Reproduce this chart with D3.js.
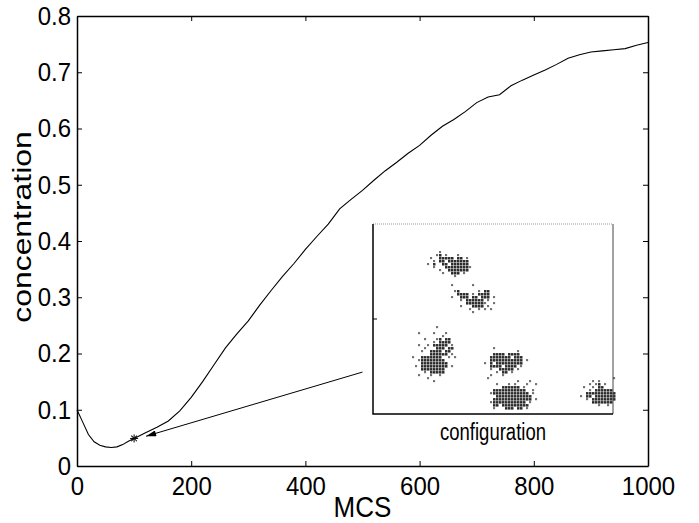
<!DOCTYPE html>
<html>
<head>
<meta charset="utf-8">
<script src="https://cdn.jsdelivr.net/npm/d3@7"></script>
<style>
  body { margin: 0; background: #fff; }
  text { font-family: "Liberation Sans", Arial, sans-serif; fill: #000; }
</style>
</head>
<body>
<div id="chart"></div>
<script>
// concentration vs Monte Carlo steps
var mcs = [0, 10, 20, 30, 40, 50, 60, 70, 80, 90, 100, 120, 140, 160, 180, 200,
  220, 240, 260, 280, 300, 320, 340, 360, 380, 400, 420, 440, 460, 480, 500,
  520, 540, 560, 580, 600, 620, 640, 660, 680, 700, 720, 740, 760, 780, 800,
  820, 840, 860, 880, 900, 920, 940, 960, 980, 1000];
var conc = [0.100, 0.078, 0.056, 0.043, 0.037, 0.034, 0.033, 0.034, 0.038, 0.044, 0.049,
  0.059, 0.069, 0.080, 0.098, 0.122, 0.150, 0.180, 0.210, 0.235, 0.258, 0.286,
  0.312, 0.337, 0.360, 0.385, 0.408, 0.430, 0.457, 0.474, 0.490, 0.508, 0.525,
  0.540, 0.556, 0.570, 0.588, 0.604, 0.616, 0.630, 0.646, 0.656, 0.660, 0.676,
  0.686, 0.695, 0.704, 0.714, 0.725, 0.731, 0.736, 0.738, 0.740, 0.742, 0.748, 0.753];

var xTicks = [0, 200, 400, 600, 800, 1000];
var yTicks = [0, 0.1, 0.2, 0.3, 0.4, 0.5, 0.6, 0.7, 0.8];

// marked configuration point and where the arrow comes from
var marked = [100, 0.049];
var arrowFrom = [500, 0.167];
var arrowTo = [121, 0.053];

// lattice snapshot: clusters as bitmaps on an 80 x 63 grid
var clusters = [
  { col: 18, row: 9, rows: [
    "....#..........",
    "...##.#...#....",
    ".#..#####.##.#.",
    "..#.##.#######.",
    "#.#..##.######.",
    "..#...#########",
    "....#..#######.",
    ".....#..###.#..",
    ".........#....."] },
  { col: 26, row: 20, rows: [
    "#......#.......",
    "...............",
    ".##......#.##..",
    "..####.#.####..",
    "#..###.##.###.#",
    "...#.######.#..",
    ".....#######..#",
    "...#...####.#..",
    "......#..#.#.#.",
    ".......#......."] },
  { col: 13, row: 34, rows: [
    "........#.......",
    "................",
    "..#....#...#....",
    "..........#.....",
    "....#...##.##...",
    ".......#.####...",
    "..#..#.#####.#..",
    "....#...###.##..",
    "...#..####.##...",
    "......######.#..",
    "#..#######..#.#.",
    "..#########.....",
    "...#########....",
    ".#.#########.#..",
    "...########.....",
    "....#.#####.....",
    "..#...#..#......",
    ".....#..........",
    ".......#........"] },
  { col: 37, row: 41, rows: [
    "...#...........",
    "...........#...",
    "...####.####...",
    "..#######.###..",
    "..###########.#",
    "#.#.#########..",
    "..####.####.#..",
    "..#..#####.#...",
    "....#.##.#.....",
    "..#...#........",
    ".#............."] },
  { col: 38, row: 52, rows: [
    "..........#...#...",
    "...#...#.#...#..#.",
    ".....######.#.....",
    "..###########..#..",
    ".#############.#..",
    "...############...",
    "..#############.#.",
    ".############.#...",
    "..##.#########....",
    "..#...###.##.#...."] },
  { col: 69, row: 51, rows: [
    "...........#",
    "....#.#.....",
    "...#.##.#...",
    ".#..#.##....",
    "...#.######.",
    "..##########",
    "#.##.#######",
    "..#.########",
    "....#######.",
    "......#..#.."] }
];

var width = 699, height = 523;
var margin = { left: 77, top: 16, right: 51, bottom: 57 };

var svg = d3.select("#chart").append("svg")
  .attr("width", width)
  .attr("height", height);

var x = d3.scaleLinear().domain([0, 1000]).range([margin.left, width - margin.right]);
var y = d3.scaleLinear().domain([0, 0.8]).range([height - margin.bottom, margin.top]);

// axes, ticks pointing inwards on all four sides
svg.append("g")
  .attr("transform", `translate(0,${y(0)})`)
  .call(d3.axisBottom(x).tickValues(xTicks).tickSizeInner(-5).tickSizeOuter(0).tickPadding(9).tickFormat(d3.format("d")));
svg.append("g")
  .attr("transform", `translate(0,${y(0.8)})`)
  .call(d3.axisTop(x).tickValues(xTicks).tickSizeInner(-5).tickSizeOuter(0).tickFormat(""));
svg.append("g")
  .attr("transform", `translate(${x(0)},0)`)
  .call(d3.axisLeft(y).tickValues(yTicks).tickSizeInner(-5).tickSizeOuter(0).tickPadding(6).tickFormat(d => d === 0 ? "0" : d3.format(".1f")(d)));
svg.append("g")
  .attr("transform", `translate(${x(1000)},0)`)
  .call(d3.axisRight(y).tickValues(yTicks).tickSizeInner(-5).tickSizeOuter(0).tickFormat(""));

svg.selectAll(".domain").attr("stroke", "#000").attr("stroke-width", 1.5);
svg.selectAll(".tick line").attr("stroke", "#000");
// the original lettering is a little taller than it is wide
svg.selectAll(".tick text")
  .attr("font-size", 24)
  .attr("font-family", null)
  .attr("fill", "#000")
  .attr("transform", "scale(1,1.1)");

// main curve
var line = d3.line()
  .x((d, i) => x(mcs[i]))
  .y(d => y(d));

svg.append("path")
  .datum(conc)
  .attr("fill", "none")
  .attr("stroke", "#000")
  .attr("stroke-width", 1.1)
  .attr("d", line);

// asterisk marker at the chosen configuration
var star = svg.append("g")
  .attr("transform", `translate(${x(marked[0])},${y(marked[1])})`)
  .attr("stroke", "#000")
  .attr("stroke-width", 1);
[0, 45, 90, 135].forEach(function(a) {
  star.append("line")
    .attr("x1", -4).attr("x2", 4)
    .attr("transform", `rotate(${a})`);
});

// arrow
svg.append("defs").append("marker")
  .attr("id", "head")
  .attr("viewBox", "0 0 10 6")
  .attr("refX", 10).attr("refY", 3)
  .attr("markerWidth", 12).attr("markerHeight", 6)
  .attr("markerUnits", "userSpaceOnUse")
  .attr("orient", "auto")
  .append("path")
  .attr("d", "M0,0L10,3L0,6Z")
  .attr("fill", "#000");

svg.append("line")
  .attr("x1", x(arrowFrom[0])).attr("y1", y(arrowFrom[1]))
  .attr("x2", x(arrowTo[0])).attr("y2", y(arrowTo[1]))
  .attr("stroke", "#000")
  .attr("stroke-width", 1)
  .attr("marker-end", "url(#head)");

// inset with the lattice configuration
var inset = { left: 373, top: 224, w: 240, h: 190 };
var gx = d3.scaleLinear().domain([0, 80]).range([inset.left, inset.left + inset.w]);
var gy = d3.scaleLinear().domain([0, 63.3]).range([inset.top, inset.top + inset.h]);

var ig = svg.append("g");
ig.append("rect")
  .attr("x", inset.left).attr("y", inset.top)
  .attr("width", inset.w).attr("height", inset.h)
  .attr("fill", "#fff");

var cells = [];
var occupied = new Set();
clusters.forEach(function(c) {
  c.rows.forEach(function(r, j) {
    r.split("").forEach(function(ch, i) {
      if (ch === "#") {
        cells.push([c.col + i, c.row + j]);
        occupied.add((c.col + i) + "," + (c.row + j));
      }
    });
  });
});

function neighbours(d) {
  var n = 0;
  [[1, 0], [-1, 0], [0, 1], [0, -1]].forEach(function(o) {
    if (occupied.has((d[0] + o[0]) + "," + (d[1] + o[1]))) n++;
  });
  return n;
}

ig.selectAll(".cell")
  .data(cells)
  .enter().append("rect")
  .attr("class", "cell")
  .attr("x", d => gx(d[0]))
  .attr("y", d => gy(d[1]))
  .attr("width", d => neighbours(d) >= 2 ? 2.5 : 2.1)
  .attr("height", d => neighbours(d) >= 2 ? 2.5 : 2.1)
  .attr("fill", d => neighbours(d) >= 2 ? "#2b2b2b" : "#707070");

ig.append("line")
  .attr("x1", inset.left).attr("x2", inset.left + inset.w)
  .attr("y1", inset.top).attr("y2", inset.top)
  .attr("stroke", "#999").attr("stroke-width", 1)
  .attr("stroke-dasharray", "1,1");
ig.append("line")
  .attr("x1", inset.left + inset.w).attr("x2", inset.left + inset.w)
  .attr("y1", inset.top).attr("y2", inset.top + inset.h)
  .attr("stroke", "#444").attr("stroke-width", 1);
ig.append("path")
  .attr("d", `M${inset.left},${inset.top}V${inset.top + inset.h}H${inset.left + inset.w}`)
  .attr("fill", "none")
  .attr("stroke", "#000").attr("stroke-width", 1.5);
ig.append("line")
  .attr("x1", inset.left).attr("x2", inset.left + 4)
  .attr("y1", inset.top + inset.h / 2).attr("y2", inset.top + inset.h / 2)
  .attr("stroke", "#000");

ig.append("text")
  .attr("transform", `translate(${inset.left + inset.w / 2},440) scale(1,1.25)`)
  .attr("text-anchor", "middle")
  .attr("font-size", 18.5)
  .text("configuration");

// axis labels
svg.append("text")
  .attr("transform", `translate(${x(500)},517) scale(1,1.1)`)
  .attr("text-anchor", "middle")
  .attr("font-size", 26)
  .text("MCS");

svg.append("text")
  .attr("transform", "translate(31,227) scale(1,1.25) rotate(-90)")
  .attr("text-anchor", "middle")
  .attr("font-size", 25.5)
  .text("concentration");
</script>
</body>
</html>
